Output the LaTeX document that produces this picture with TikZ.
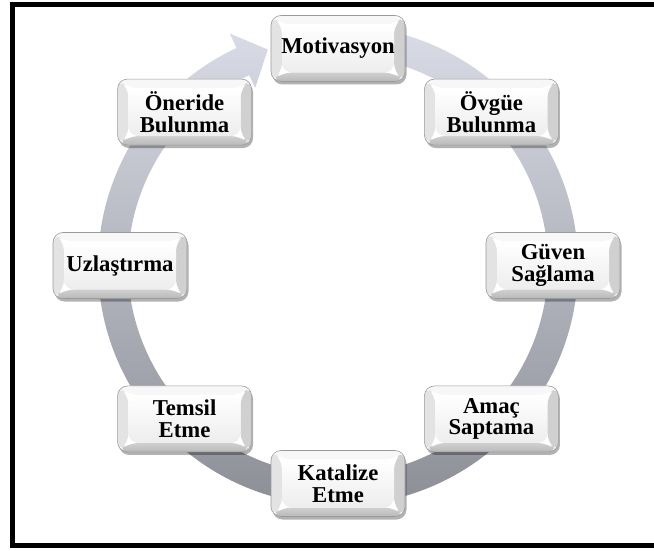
\documentclass[tikz,border=0pt]{standalone}
\usepackage{fontspec}
\setmainfont{Liberation Serif}
\usetikzlibrary{calc,shadows}

\definecolor{ringtop}{HTML}{D9DCE6}
\definecolor{ringbot}{HTML}{8B8D95}
\definecolor{bevtop}{HTML}{F7F7F7}
\definecolor{bevleft}{HTML}{E3E3E3}
\definecolor{bevright}{HTML}{D0D0D0}
\definecolor{bevbot}{HTML}{B9B9B9}
\definecolor{facebot}{HTML}{EDEDED}
\definecolor{pilledge}{HTML}{9A9A9A}

\tikzset{
  pill/.style={
    rectangle, rounded corners=10pt,
    minimum width=134pt, minimum height=66pt, inner sep=0pt,
    align=center, text=black,
    font=\bfseries\fontsize{22.7}{21.5}\selectfont,
    fill=white, draw=pilledge, line width=0.6pt,
    drop shadow={shadow xshift=1.5pt, shadow yshift=-3pt, opacity=0.3, fill=black},
    path picture={
      \coordinate (sw) at (path picture bounding box.south west);
      \coordinate (ne) at (path picture bounding box.north east);
      \coordinate (nw) at (sw|-ne);
      \coordinate (se) at (ne|-sw);
      \coordinate (isw) at ($(sw)+(11,9)$);
      \coordinate (ine) at ($(ne)+(-11,-9)$);
      \coordinate (inw) at (isw|-ine);
      \coordinate (ise) at (ine|-isw);
      \fill[bevtop] (nw) -- (ne) -- (ine) -- (inw) -- cycle;
      \fill[bevleft] (nw) -- (sw) -- (isw) -- (inw) -- cycle;
      \fill[bevright] (ne) -- (se) -- (ise) -- (ine) -- cycle;
      \shade[top color=bevright, bottom color=bevbot] (sw) -- (se) -- (ise) -- (isw) -- cycle;
      \shade[top color=white, bottom color=facebot] (isw) rectangle (ine);
    }
  },
  frameline/.style={line width=5pt, black},
  ring/.style={top color=ringtop, bottom color=ringbot}
}

\begin{document}
\begin{tikzpicture}[x=1pt,y=1pt]
  \useasboundingbox (0,0) rectangle (654,550);
  \fill[white] (0,0) rectangle (654,550);

  % outer frame
  \draw[frameline] (662,545.5) -- (12.5,545.5) -- (12.5,5) -- (662,5);

  \coordinate (C) at (338,284.5);
  \begin{scope}[shift={(C)}]
    % cycle arrow behind the steps
    \shade[ring] (85:240) arc[start angle=85, end angle=-245, radius=240]
      -- (-245:256) -- (-252:227) -- (-245:196) -- (-245:210)
      arc[start angle=-245, end angle=85, radius=210] -- cycle;

    % steps of the cycle
    \node[pill] (mot) at (90:217)   {Motivasyon};
    \node[pill] (ovg) at (45:217)   {Övgüe\\Bulunma};
    \node[pill] (guv) at (0:215)    {Güven\\Sağlama};
    \node[pill] (ama) at (-45:217)  {Amaç\\Saptama};
    \node[pill] (kat) at (-90:218)  {Katalize\\Etme};
    \node[pill] (tem) at (-135:217) {Temsil\\Etme};
    \node[pill] (uzl) at (180:218)  {Uzlaştırma};
    \node[pill] (one) at (135:217)  {Öneride\\Bulunma};
  \end{scope}
\end{tikzpicture}
\end{document}
